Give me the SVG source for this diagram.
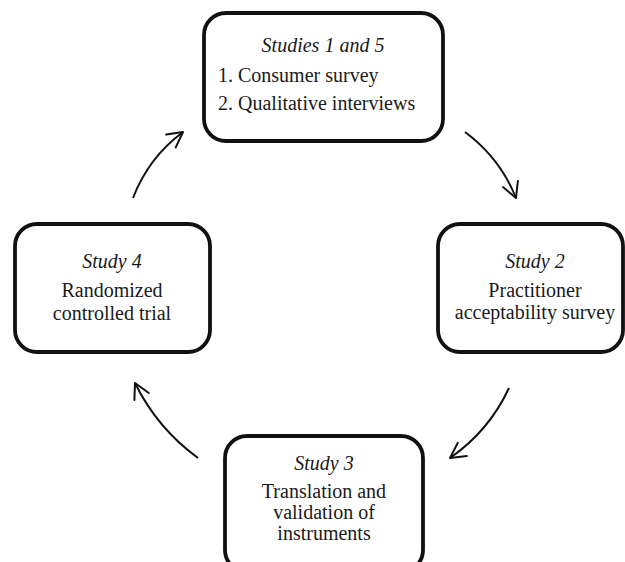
<svg xmlns="http://www.w3.org/2000/svg" width="625" height="562" viewBox="0 0 625 562">
<style>
.box{fill:#fff;stroke:#111;stroke-width:3.8}
.t{font-family:"Liberation Serif","Times New Roman",serif;font-size:20px;fill:#1a1a1a;text-anchor:middle}
.it{font-style:italic}
.l{text-anchor:start}
.c{fill:none;stroke:#111;stroke-width:2}
</style>
<defs>
<marker id="ah" markerUnits="userSpaceOnUse" viewBox="-18 -10 20 20" refX="0" refY="0" markerWidth="20" markerHeight="20" orient="auto" overflow="visible">
<path d="M-15,-8 L0,0 L-15,8" fill="none" stroke="#111" stroke-width="2" stroke-linecap="round" stroke-linejoin="round"/>
</marker>
</defs>
<rect width="625" height="562" fill="#fff"/>
<g id="connectors">
<path class="c" d="M133,198 Q148.5,157.6 183,132" marker-end="url(#ah)"/>
<path class="c" d="M465,132 Q500,158 516,198" marker-end="url(#ah)"/>
<path class="c" d="M509,388 Q489,431 450,458" marker-end="url(#ah)"/>
<path class="c" d="M198,458 Q157,428 135,383" marker-end="url(#ah)"/>
</g>
<g id="node1">
<rect class="box" x="204" y="13" width="239" height="128" rx="22"/>
<text class="t it" x="323" y="52">Studies 1 and 5</text>
<text class="t l" x="218" y="82">1. Consumer survey</text>
<text class="t l" x="218" y="110">2. Qualitative interviews</text>
</g>
<g id="node2">
<rect class="box" x="438" y="224" width="185" height="128" rx="22"/>
<text class="t it" x="535" y="268">Study 2</text>
<text class="t" x="535" y="297">Practitioner</text>
<text class="t" x="535" y="319">acceptability survey</text>
</g>
<g id="node3">
<rect class="box" x="225" y="436" width="198" height="136" rx="22"/>
<text class="t it" x="324" y="470">Study 3</text>
<text class="t" x="324" y="498">Translation and</text>
<text class="t" x="324" y="519">validation of</text>
<text class="t" x="324" y="540">instruments</text>
</g>
<g id="node4">
<rect class="box" x="15" y="224" width="195" height="128" rx="22"/>
<text class="t it" x="112" y="268">Study 4</text>
<text class="t" x="112" y="297">Randomized</text>
<text class="t" x="112" y="320">controlled trial</text>
</g>
</svg>
